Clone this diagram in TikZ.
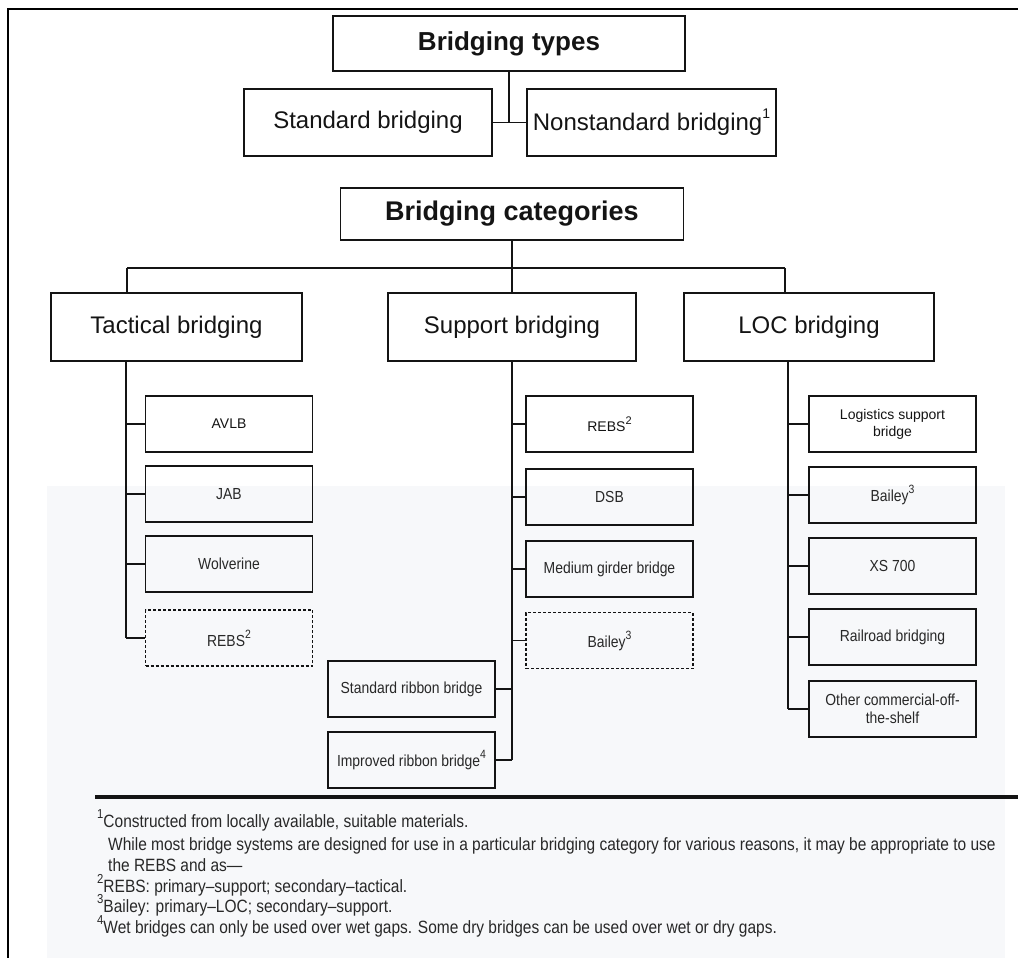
\documentclass[tikz,border=0pt]{standalone}
\usepackage{fontspec}
\setmainfont{Liberation Sans}
\newfontfamily\narrowfont[FakeStretch=0.87,Ligatures=TeX]{Liberation Sans}
\definecolor{scan}{RGB}{247,248,250}
\definecolor{ink}{RGB}{20,20,20}
\definecolor{ink2}{RGB}{40,40,40}
\newcommand\supnum[2][12]{\raisebox{0.5em}{\fontsize{#1}{#1}\selectfont #2}}
\begin{document}
\begin{tikzpicture}[x=1pt,y=-1pt,
  box/.style={draw=ink, line width=1.4pt, inner sep=0pt, align=center, text=ink},
  big/.style={box, minimum height=68pt, font=\fontsize{24}{28}\selectfont},
  small/.style={box, minimum width=167pt, minimum height=56pt, font=\fontsize{14}{17}\selectfont},
  lsmall/.style={small, text=ink2, font=\narrowfont\fontsize{16}{18}\selectfont},
  dbox/.style={lsmall, dash pattern=on 3pt off 2pt},
  conn/.style={draw=ink, line width=1.4pt},
  fn/.style={anchor=base west, inner sep=0pt, text=ink2, font=\narrowfont\fontsize{17.8}{20}\selectfont}
]
\useasboundingbox (0,0) rectangle (1018,958);
\fill[white] (0,0) rectangle (1018,958);
\fill[scan] (47,486) rectangle (1005,958);
% frame
\draw[line width=2.5pt, line join=miter] (8,958) -- (8,9) -- (1018,9);

% top: bridging types
\node[box, minimum width=352pt, minimum height=55pt, font=\bfseries\fontsize{26}{30}\selectfont] (types) at (509,43.5) {Bridging types};
\node[big, minimum width=248pt, minimum height=67pt] (std) at (368,122.5) {Standard bridging};
\node[big, minimum width=249pt, minimum height=67pt] (nonstd) at (651.5,122.5) {Nonstandard bridging\supnum[14]{1}};
\draw[conn] (std.east) -- (nonstd.west);
\draw[conn] (types.south) -- (types.south |- std.east);

% categories
\node[box, minimum width=343pt, minimum height=52pt, font=\bfseries\fontsize{27}{31}\selectfont] (cats) at (512,214) {Bridging categories};
\node[big, minimum width=251pt] (tac) at (176.5,327) {Tactical bridging};
\node[big, minimum width=248pt] (sup) at (512,327) {Support bridging};
\node[big, minimum width=250pt] (loc) at (809,327) {LOC bridging};
\coordinate (tj) at (127,268);
\coordinate (lj) at (785,268);
\draw[conn] (cats.south) -- (sup.north);
\draw[conn] (tj) -- (lj);
\draw[conn] (tj) -- (tj |- tac.north);
\draw[conn] (lj) -- (lj |- loc.north);

% tactical children
\node[small] (avlb) at (229,424) {AVLB};
\node[lsmall] (jab) at (229,494) {JAB};
\node[lsmall] (wolv) at (229,564) {Wolverine};
\node[dbox] (trebs) at (229,638) {REBS\supnum{2}};
\coordinate (tx) at (126,0);
\draw[conn] (tac.south -| tx) -- (trebs.west -| tx);
\foreach \n in {avlb,jab,wolv,trebs} \draw[conn] (\n.west -| tx) -- (\n.west);

% support children
\node[small] (srebs) at (609.5,424) {REBS\supnum[11]{2}};
\node[lsmall] (dsb) at (609.5,497) {DSB};
\node[lsmall] (mgb) at (609.5,569) {Medium girder bridge};
\node[dbox] (sbail) at (609.5,640.5) {Bailey\supnum{3}};
\node[lsmall] (srb) at (411.5,689) {Standard ribbon bridge};
\node[lsmall] (irb) at (411.5,760) {Improved ribbon bridge\supnum{4}};
\draw[conn] (sup.south) -- (sup.south |- irb.east);
\foreach \n in {srebs,dsb,mgb,sbail} \draw[conn] (sup.south |- \n.west) -- (\n.west);
\foreach \n in {srb,irb} \draw[conn] (sup.south |- \n.east) -- (\n.east);

% LOC children
\node[small] (lsb) at (892.5,424) {Logistics support\\bridge};
\node[lsmall] (lbail) at (892.5,495) {Bailey\supnum{3}};
\node[lsmall] (xs) at (892.5,566) {XS 700};
\node[lsmall] (rail) at (892.5,637) {Railroad bridging};
\node[lsmall] (cots) at (892.5,709) {Other commercial-off-\\the-shelf};
\coordinate (lx) at (788,0);
\draw[conn] (loc.south -| lx) -- (cots.west -| lx);
\foreach \n in {lsb,lbail,xs,rail,cots} \draw[conn] (\n.west -| lx) -- (\n.west);

% footer
\draw[draw=ink, line width=4pt] (95,797) -- (1018,797);
\node[fn] (f1) at (97,827) {\supnum[13]{1}Constructed from locally available, suitable materials.};
\node[fn] (f2) at (108,850) {While most bridge systems are designed for use in a particular bridging category for various reasons, it may be appropriate to use};
\node[fn] (f3) at (108,871) {the REBS and as—};
\node[fn] (f4) at (97,892) {\supnum[13]{2}REBS: primary–support; secondary–tactical.};
\node[fn] (f5) at (97,912) {\supnum[13]{3}Bailey: primary–LOC; secondary–support.};
\node[fn] (f6) at (97,933) {\supnum[13]{4}Wet bridges can only be used over wet gaps. Some dry bridges can be used over wet or dry gaps.};
\end{tikzpicture}
\end{document}
